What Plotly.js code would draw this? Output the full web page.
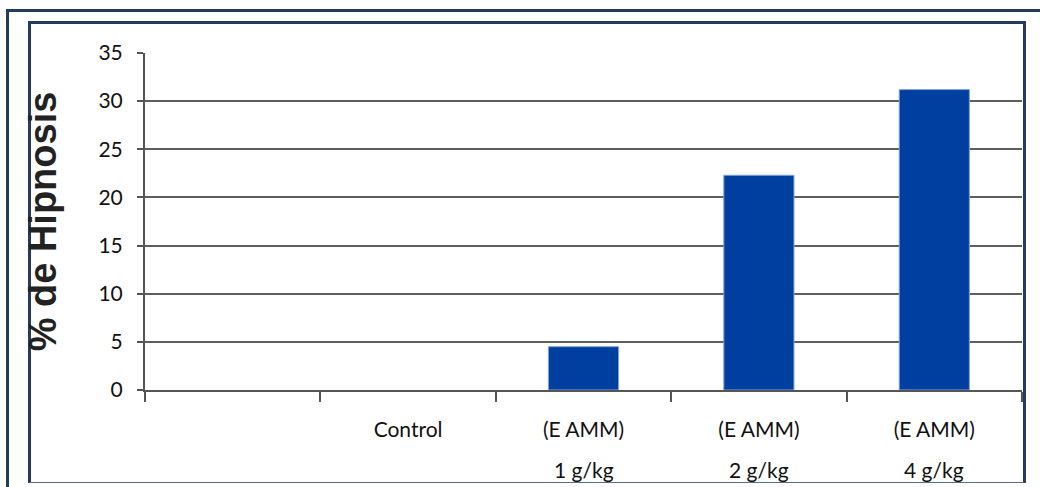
<!DOCTYPE html>
<html>
<head>
<meta charset="utf-8">
<script src="https://cdn.plot.ly/plotly-3.0.1.min.js"></script>
<style>
  html, body { margin: 0; padding: 0; background: #ffffff; }
  body { width: 1040px; height: 487px; position: relative; overflow: hidden; }
  #outer { position: absolute; left: 6px; top: 9px; width: 1100px; height: 600px;
           border-top: 3px solid #243b5c; border-left: 3px solid #243b5c; box-sizing: border-box; }
  #inner { position: absolute; left: 28px; top: 21px; width: 998px; height: 462px;
           border-top: 3px solid #243b5c; border-left: 3px solid #243b5c; border-right: 3px solid #243b5c;
           border-bottom: 1px solid #5b6f88; box-sizing: border-box; }
  #chart { position: absolute; left: 0; top: 0; width: 1040px; height: 487px; }
</style>
</head>
<body>
<div id="outer"></div>
<div id="inner"></div>
<div id="chart"></div>
<script>
const categories = ["", "Control", "(E AMM) 1 g/kg", "(E AMM) 2 g/kg", "(E AMM) 4 g/kg"];
const labelTop = ["", "Control", "(E AMM)", "(E AMM)", "(E AMM)"];
const labelBottom = ["", "", "1 g/kg", "2 g/kg", "4 g/kg"];
const hipnosis = [null, 0, 4.5, 22.3, 31.2];
const yTicks = [0, 5, 10, 15, 20, 25, 30, 35];

const idx = categories.map((c, i) => i);

const trace = {
  type: "bar",
  x: idx,
  y: hipnosis,
  width: 0.4,
  marker: { color: "#003f9f", line: { color: "#7ea6de", width: hipnosis.map(v => (v ? 1 : 0)) } },
  hoverinfo: "skip",
  showlegend: false
};

const labelFont = { family: "Lato, 'Open Sans', sans-serif", size: 21, color: "#111" };

const annotations = idx.filter(i => labelBottom[i]).map(i => ({
  x: i, xref: "x", y: -0.235, yref: "paper",
  text: labelBottom[i], showarrow: false, yanchor: "middle",
  font: labelFont
}));

const layout = {
  width: 1040, height: 487,
  margin: { l: 145, r: 18, t: 53, b: 97 },
  paper_bgcolor: "rgba(0,0,0,0)",
  plot_bgcolor: "rgba(0,0,0,0)",
  xaxis: {
    type: "category",
    tickvals: idx, ticktext: labelTop,
    tickson: "boundaries",
    range: [-0.5, 4.5],
    showline: true, linecolor: "#555", linewidth: 2,
    ticks: "outside", ticklen: 10, tickwidth: 2, tickcolor: "#555",
    ticklabelstandoff: 20,
    showgrid: false, zeroline: false,
    tickfont: labelFont,
    fixedrange: true
  },
  yaxis: {
    range: [0, 35], tickvals: yTicks,
    showline: true, linecolor: "#555", linewidth: 2,
    ticks: "outside", ticklen: 6, tickwidth: 2, tickcolor: "#555",
    showgrid: true, gridcolor: "#5e5e5e", gridwidth: 2,
    zeroline: false,
    ticklabelstandoff: 10,
    tickfont: labelFont,
    title: { text: "% de Hipnosis", standoff: 30,
             font: { family: "Arial, 'Liberation Sans', sans-serif", size: 38, color: "#222", weight: "bold" } },
    fixedrange: true
  },
  annotations: annotations
};

Plotly.newPlot("chart", [trace], layout, { displayModeBar: false, staticPlot: true });
</script>
</body>
</html>
